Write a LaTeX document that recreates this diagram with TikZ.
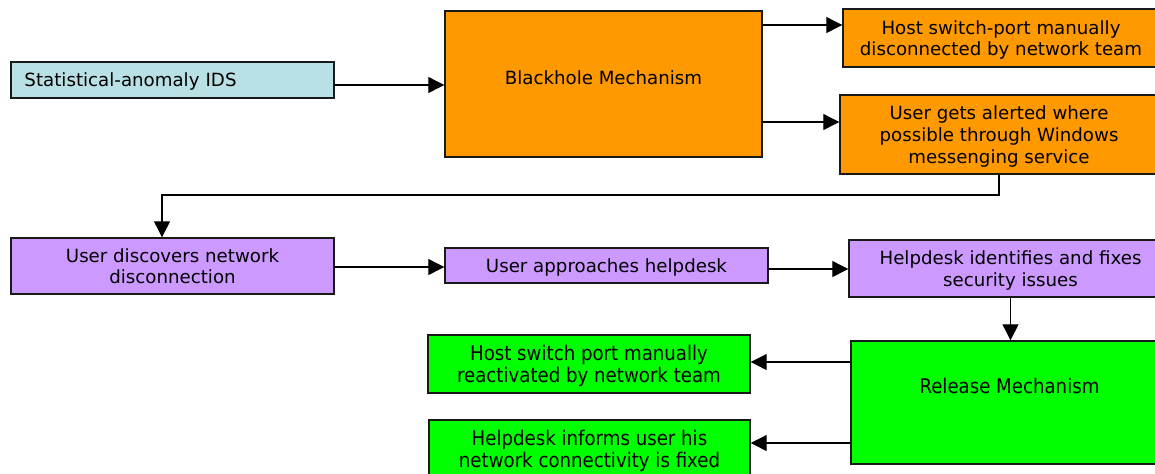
\documentclass[tikz,border=0pt]{standalone}
\usepackage{fontspec}
\setmainfont{DejaVu Sans}
\newfontfamily\condfont{DejaVu Sans Condensed}
\usetikzlibrary{arrows.meta}
\definecolor{idsblue}{HTML}{B9E0E4}
\definecolor{bhorange}{HTML}{FF9900}
\definecolor{userpurple}{HTML}{CC99FF}
\definecolor{relgreen}{HTML}{00FF00}
\begin{document}
\begin{tikzpicture}[x=0.5pt,y=-0.5pt]
		\tikzset{dev/.style={draw=black!90,line width=0.7pt,inner sep=0pt,text depth=0pt,align=center,font=\fontsize{9.1}{10.8}\selectfont},
		rel/.style={dev,fill=relgreen,font=\condfont\fontsize{10.1}{11}\selectfont},
		com/.style={-{Triangle[length=8pt,width=8pt]},line width=0.55pt}}
		\useasboundingbox (0,0) rectangle (1155,473);
		% detection and blackhole
		\node[dev,fill=idsblue,minimum width=161.5pt,minimum height=18pt,align=left,text width=148pt] (ids) at (172.5,80) {Statistical-anomaly IDS};
		\node[dev,fill=bhorange,minimum width=158.5pt,minimum height=73pt] (bh) at (603.5,84) {\raisebox{6pt}{Blackhole Mechanism}};
		\node[dev,fill=bhorange,minimum width=158pt,minimum height=29pt] (hsp) at (1001,38) {Host switch-port manually\\disconnected by network team};
		\node[dev,fill=bhorange,minimum width=159pt,minimum height=39.5pt] (alert) at (999,134.5) {User gets alerted where\\possible through Windows\\messenging service};
		% user side
		\node[dev,fill=userpurple,minimum width=161.5pt,minimum height=28pt] (disc) at (172.5,266) {User discovers network\\disconnection};
		\node[dev,fill=userpurple,minimum width=161.5pt,minimum height=17.5pt] (appr) at (606.5,265.5) {User approaches helpdesk};
		\node[dev,fill=userpurple,minimum width=161.5pt,minimum height=28.5pt] (fix) at (1010.5,268.5) {Helpdesk identifies and fixes\\security issues};
		% release
		\node[rel,minimum width=158.5pt,minimum height=61.5pt] (relm) at (1009.5,402.5) {\raisebox{17pt}{Release Mechanism}};
		\node[rel,minimum width=161pt,minimum height=29pt] (react) at (589,364) {Host switch port manually\\reactivated by network team};
		\node[rel,minimum width=160.5pt,minimum height=29pt] (inform) at (589.5,449) {Helpdesk informs user his\\network connectivity is fixed};
		\coordinate (bend) at (162,195);

		\draw[com] (ids.east |- 0,85) -- (bh.west |- 0,85);
		\draw[com] (bh.east |- 0,25) -- (hsp.west |- 0,25);
		\draw[com] (bh.east |- 0,122) -- (alert.west |- 0,122);
		\draw[com] (alert.south) |- (bend) -- (bend |- disc.north);
		\draw[com] (disc.east |- 0,267) -- (appr.west |- 0,267);
		\draw[com] (appr.east |- 0,269) -- (fix.west |- 0,269);
		\draw[com] (fix.south) -- (fix.south |- relm.north);
		\draw[com] (relm.west |- 0,362) -- (react.east |- 0,362);
		\draw[com] (relm.west |- 0,443) -- (inform.east |- 0,443);
\end{tikzpicture}
\end{document}
